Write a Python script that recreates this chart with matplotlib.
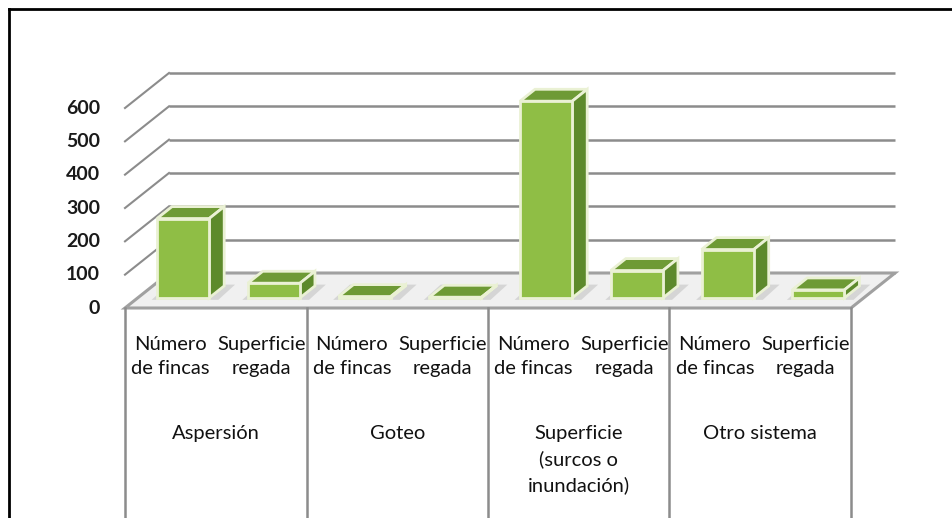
import numpy as np
import matplotlib
matplotlib.use("Agg")
import matplotlib.pyplot as plt
from matplotlib.patches import Polygon
from matplotlib.lines import Line2D

# data
systems = ["Aspersión", "Goteo", "Superficie\n(surcos o\ninundación)", "Otro sistema"]
measures = ["Número\nde fincas", "Superficie\nregada"]
n_fincas = [238, 4, 590, 145]
sup_regada = [44, 2, 82, 24]
y_ticks = [0, 100, 200, 300, 400, 500, 600]

plt.rcParams['font.family'] = ['Lato', 'DejaVu Sans']

W, H = 953, 518
fig = plt.figure(figsize=(W / 100, H / 100), dpi=100)
fig.patch.set_facecolor('white')

# front plane of the 3D box: x 0..8 (bar slots), y 0..600
ax = fig.add_axes([125 / W, (H - 308) / H, 726 / W, 200 / H])
ax.set_xlim(0, 8)
ax.set_ylim(0, 600)
ax.axis('off')

# depth vector of the box in data units (44 px right, 35 px up)
Dx, Dy = 44 / (726 / 8), 35 * 3
f0, f1 = 0.29, 0.63          # bar front / back as fraction of the depth
bar_w = 0.575

grid_c = '#8C8C8C'
front_c, top_c, side_c, edge_c = '#8FBE45', '#6E9A35', '#5D8A2B', '#EAF1D4'

# back wall and left wall grid lines
for v in y_ticks:
    ax.plot([Dx, 8 + Dx], [v + Dy, v + Dy], color=grid_c, lw=1.8, zorder=1,
            clip_on=False, solid_capstyle='butt')
    if v > 0:
        ax.plot([0, Dx], [v, v + Dy], color=grid_c, lw=1.5, zorder=1, clip_on=False)

# floor
floor = Polygon([(0, 0), (8, 0), (8 + Dx, Dy), (Dx, Dy)], closed=True,
                facecolor='#F0F0F0', edgecolor='#A0A0A0', lw=2.2, zorder=2, clip_on=False)
ax.add_patch(floor)

# bars
values = []
for a, b in zip(n_fincas, sup_regada):
    values += [a, b]
centers = np.arange(len(values)) + 0.5
ddx, ddy = (f1 - f0) * Dx, (f1 - f0) * Dy
for c, v in zip(centers, values):
    xl = c + f0 * Dx - bar_w / 2
    xr = xl + bar_w
    y0 = f0 * Dy
    # soft shadow on the floor
    sh = Polygon([(xl - 0.06, y0 - 6), (xr + 0.1, y0 - 6), (xr + ddx + 0.12, y0 + ddy + 4),
                  (xl + ddx - 0.04, y0 + ddy + 4)], closed=True, facecolor='#CFCFCF',
                 edgecolor='none', alpha=0.8, zorder=3, clip_on=False)
    ax.add_patch(sh)
    ax.bar(c + f0 * Dx, v, width=bar_w, bottom=y0, color=front_c, edgecolor=edge_c,
           lw=2, zorder=5, clip_on=False)
    top = y0 + v
    ax.add_patch(Polygon([(xl, top), (xr, top), (xr + ddx, top + ddy), (xl + ddx, top + ddy)],
                         closed=True, facecolor=top_c, edgecolor=edge_c, lw=2, zorder=4,
                         clip_on=False))
    ax.add_patch(Polygon([(xr, y0), (xr, top), (xr + ddx, top + ddy), (xr + ddx, y0 + ddy)],
                         closed=True, facecolor=side_c, edgecolor=edge_c, lw=2, zorder=4,
                         clip_on=False))

# y tick labels
for v in y_ticks:
    ax.text(-25 / (726 / 8), v, str(v), ha='right', va='center', fontsize=14,
            fontweight='bold', color='#1A1A1A', clip_on=False)

# category table under the floor
trans = ax.get_xaxis_transform()
bottom_frac = -308 / 200
for x in range(0, 9, 2):
    ax.plot([x, x], [0, bottom_frac], transform=trans, color='#8C8C8C', lw=1.8,
            clip_on=False, zorder=2)
for c, lab in zip(centers, measures * len(systems)):
    ax.text(c, -0.243, lab, transform=trans, ha='center', va='center', fontsize=14.5,
            linespacing=1.55, color='#111111')
for i, lab in enumerate(systems):
    ax.text(2 * i + 1, -0.585, lab, transform=trans, ha='center', va='top', fontsize=14.5,
            linespacing=1.55, color='#111111')

# outer frame (top and left edges)
fig.add_artist(Line2D([9 / W, 1], [1 - 9 / H, 1 - 9 / H], color='black', lw=2))
fig.add_artist(Line2D([9 / W, 9 / W], [0, 1 - 9 / H], color='black', lw=2))

fig.savefig('out.png', dpi=100)
